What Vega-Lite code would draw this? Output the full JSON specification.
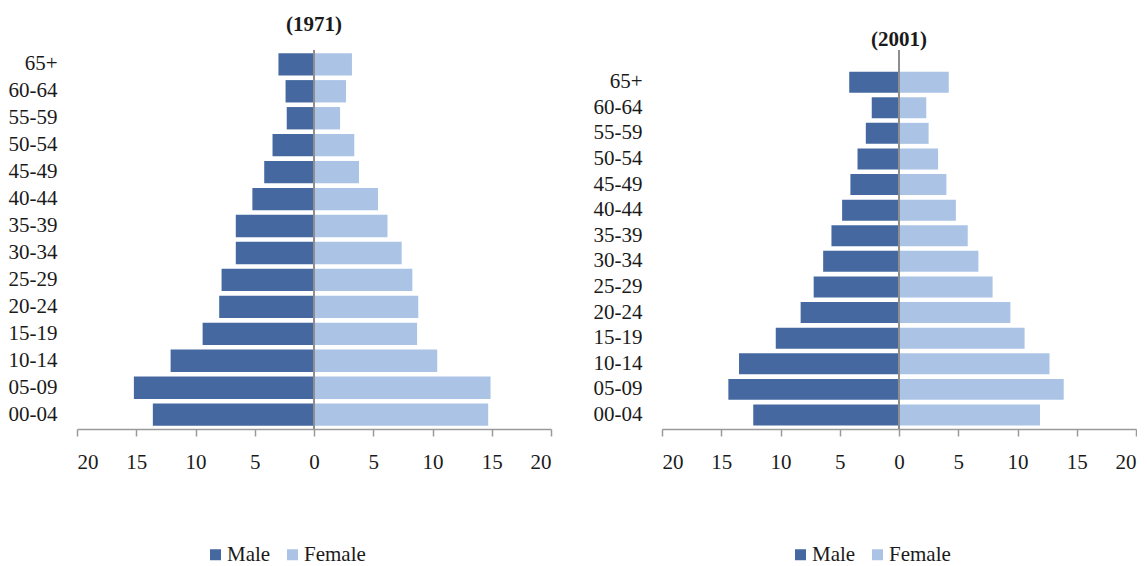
{
  "$schema": "https://vega.github.io/schema/vega-lite/v6.json",
  "background": "white",
  "padding": {"left": 8, "top": 14, "right": 0, "bottom": 0},
  "spacing": 41,
  "config": {
    "font": "Liberation Serif",
    "view": {"stroke": null},
    "axis": {"grid": false, "labelFont": "Liberation Serif", "labelFontSize": 21, "labelColor": "#1a1a1a", "title": null},
    "axisY": {"domain": false, "ticks": false, "tickSize": 0, "labelPadding": 20},
    "axisX": {"domainColor": "#9a9a9a", "tickColor": "#9a9a9a", "domainWidth": 1.5, "tickWidth": 1.5, "tickSize": 7, "labelPadding": 15},
    "legend": {"labelFont": "Liberation Serif", "labelFontSize": 21, "labelColor": "#1a1a1a", "symbolType": "square", "symbolSize": 121, "symbolStrokeWidth": 0, "labelOffset": 1, "columnPadding": 11}
  },
  "datasets": {
    "d1971": [
      {"age": "65+", "sex": "Male", "value": -3.0}, {"age": "65+", "sex": "Female", "value": 3.2},
      {"age": "60-64", "sex": "Male", "value": -2.4}, {"age": "60-64", "sex": "Female", "value": 2.7},
      {"age": "55-59", "sex": "Male", "value": -2.3}, {"age": "55-59", "sex": "Female", "value": 2.2},
      {"age": "50-54", "sex": "Male", "value": -3.5}, {"age": "50-54", "sex": "Female", "value": 3.4},
      {"age": "45-49", "sex": "Male", "value": -4.2}, {"age": "45-49", "sex": "Female", "value": 3.8},
      {"age": "40-44", "sex": "Male", "value": -5.2}, {"age": "40-44", "sex": "Female", "value": 5.4},
      {"age": "35-39", "sex": "Male", "value": -6.6}, {"age": "35-39", "sex": "Female", "value": 6.2},
      {"age": "30-34", "sex": "Male", "value": -6.6}, {"age": "30-34", "sex": "Female", "value": 7.4},
      {"age": "25-29", "sex": "Male", "value": -7.8}, {"age": "25-29", "sex": "Female", "value": 8.3},
      {"age": "20-24", "sex": "Male", "value": -8.0}, {"age": "20-24", "sex": "Female", "value": 8.8},
      {"age": "15-19", "sex": "Male", "value": -9.4}, {"age": "15-19", "sex": "Female", "value": 8.7},
      {"age": "10-14", "sex": "Male", "value": -12.1}, {"age": "10-14", "sex": "Female", "value": 10.4},
      {"age": "05-09", "sex": "Male", "value": -15.2}, {"age": "05-09", "sex": "Female", "value": 14.9},
      {"age": "00-04", "sex": "Male", "value": -13.6}, {"age": "00-04", "sex": "Female", "value": 14.7}
    ],
    "d2001": [
      {"age": "65+", "sex": "Male", "value": -4.2}, {"age": "65+", "sex": "Female", "value": 4.2},
      {"age": "60-64", "sex": "Male", "value": -2.3}, {"age": "60-64", "sex": "Female", "value": 2.3},
      {"age": "55-59", "sex": "Male", "value": -2.8}, {"age": "55-59", "sex": "Female", "value": 2.5},
      {"age": "50-54", "sex": "Male", "value": -3.5}, {"age": "50-54", "sex": "Female", "value": 3.3},
      {"age": "45-49", "sex": "Male", "value": -4.1}, {"age": "45-49", "sex": "Female", "value": 4.0},
      {"age": "40-44", "sex": "Male", "value": -4.8}, {"age": "40-44", "sex": "Female", "value": 4.8},
      {"age": "35-39", "sex": "Male", "value": -5.7}, {"age": "35-39", "sex": "Female", "value": 5.8},
      {"age": "30-34", "sex": "Male", "value": -6.4}, {"age": "30-34", "sex": "Female", "value": 6.7},
      {"age": "25-29", "sex": "Male", "value": -7.2}, {"age": "25-29", "sex": "Female", "value": 7.9},
      {"age": "20-24", "sex": "Male", "value": -8.3}, {"age": "20-24", "sex": "Female", "value": 9.4},
      {"age": "15-19", "sex": "Male", "value": -10.4}, {"age": "15-19", "sex": "Female", "value": 10.6},
      {"age": "10-14", "sex": "Male", "value": -13.5}, {"age": "10-14", "sex": "Female", "value": 12.7},
      {"age": "05-09", "sex": "Male", "value": -14.4}, {"age": "05-09", "sex": "Female", "value": 13.9},
      {"age": "00-04", "sex": "Male", "value": -12.3}, {"age": "00-04", "sex": "Female", "value": 11.9}
    ]
  },
  "resolve": {"scale": {"x": "independent", "y": "independent", "color": "independent"}, "legend": {"color": "independent"}},
  "hconcat": [
    {
      "width": 474,
      "height": 379,
      "title": {"text": "(1971)", "font": "Liberation Serif", "fontSize": 21, "fontWeight": "bold", "color": "#1a1a1a", "offset": 14},
      "data": {"name": "d1971"},
      "layer": [
        {
          "mark": {"type": "bar"},
          "encoding": {
            "y": {"field": "age", "type": "nominal", "sort": ["65+", "60-64", "55-59", "50-54", "45-49", "40-44", "35-39", "30-34", "25-29", "20-24", "15-19", "10-14", "05-09", "00-04"], "scale": {"paddingInner": 0.17, "paddingOuter": 0.117}},
            "x": {"field": "value", "type": "quantitative", "scale": {"domain": [-20, 20], "nice": false}, "axis": {"values": [-20, -15, -10, -5, 0, 5, 10, 15, 20], "labelExpr": "abs(datum.value)"}},
            "color": {"field": "sex", "type": "nominal", "scale": {"domain": ["Male", "Female"], "range": ["#4568A0", "#ABC4E6"]}, "legend": {"orient": "none", "legendX": 128, "legendY": 494, "direction": "horizontal", "title": null}}
          }
        },
        {
          "mark": {"type": "rule", "color": "#8E8E8E", "strokeWidth": 2},
          "encoding": {"x": {"datum": 0}}
        }
      ]
    },
    {
      "width": 474,
      "height": 379,
      "title": {"text": "(2001)", "font": "Liberation Serif", "fontSize": 21, "fontWeight": "bold", "color": "#1a1a1a", "offset": -1},
      "data": {"name": "d2001"},
      "layer": [
        {
          "mark": {"type": "bar"},
          "encoding": {
            "y": {"field": "age", "type": "nominal", "sort": ["65+", "60-64", "55-59", "50-54", "45-49", "40-44", "35-39", "30-34", "25-29", "20-24", "15-19", "10-14", "05-09", "00-04"], "scale": {"paddingInner": 0.18, "paddingOuter": 0.492, "align": 0.86}},
            "x": {"field": "value", "type": "quantitative", "scale": {"domain": [-20, 20], "nice": false}, "axis": {"values": [-20, -15, -10, -5, 0, 5, 10, 15, 20], "labelExpr": "abs(datum.value)"}},
            "color": {"field": "sex", "type": "nominal", "scale": {"domain": ["Male", "Female"], "range": ["#4568A0", "#ABC4E6"]}, "legend": {"orient": "none", "legendX": 128, "legendY": 494, "direction": "horizontal", "title": null}}
          }
        },
        {
          "mark": {"type": "rule", "color": "#8E8E8E", "strokeWidth": 2},
          "encoding": {"x": {"datum": 0}}
        }
      ]
    }
  ]
}
